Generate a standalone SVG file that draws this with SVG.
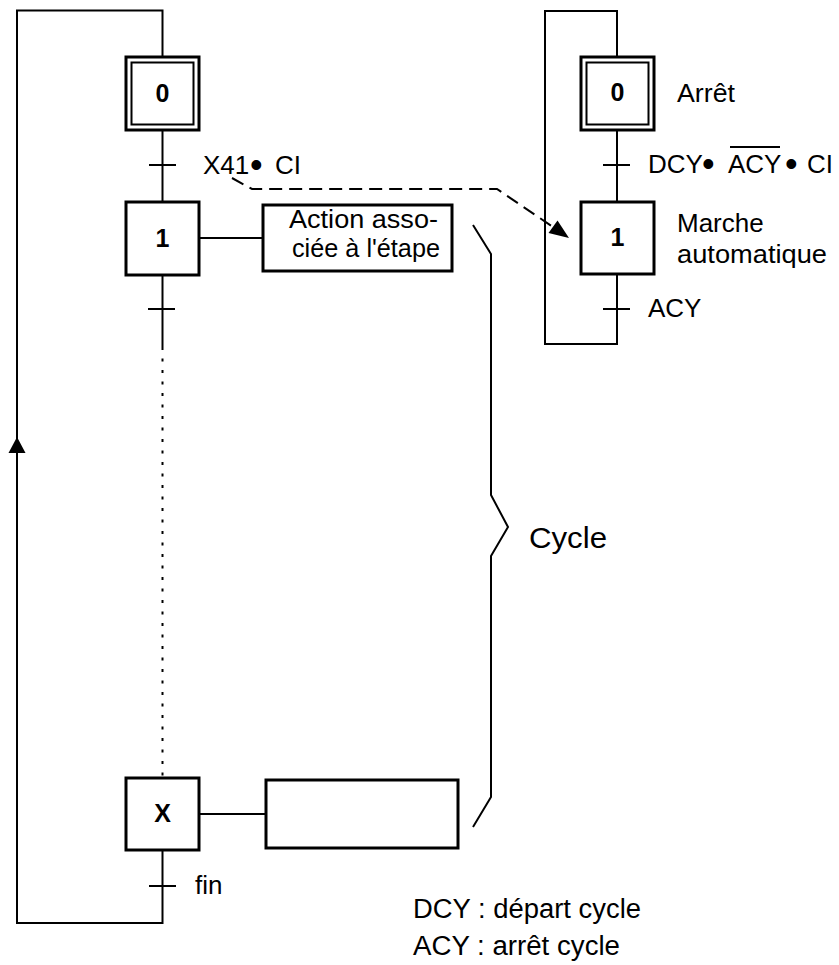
<svg xmlns="http://www.w3.org/2000/svg" width="839" height="965" viewBox="0 0 839 965">
<defs>
<style>
.ln{fill:none;stroke:#000;stroke-width:2}
.box{fill:#fff;stroke:#000;stroke-width:3}
.inner{fill:none;stroke:#000;stroke-width:2}
.t{font-family:"Liberation Sans",Arial,sans-serif;font-size:26px;fill:#000}
.lg{font-size:27px}
.num{font-family:"Liberation Sans",Arial,sans-serif;font-size:25px;font-weight:bold;fill:#000;text-anchor:middle}
.bul{font-size:36px}
</style>
</defs>
<rect width="839" height="965" fill="#fff"/>
<g id="connectors">
<path class="ln" d="M162.5,57 V10.5 H17 V923 H162.5 V850"/>
<polygon points="17,437 8.5,453 25.5,453" fill="#000"/>
<line class="ln" x1="162.5" y1="130" x2="162.5" y2="202"/>
<line class="ln" x1="149" y1="165" x2="176" y2="165"/>
<line class="ln" x1="162.5" y1="275" x2="162.5" y2="347"/>
<line class="ln" x1="148" y1="309" x2="175" y2="309"/>
<line class="ln" x1="162.5" y1="347" x2="162.5" y2="778" stroke-dasharray="3 8.5"/>
<line class="ln" x1="149" y1="886" x2="176" y2="886"/>
<line class="ln" x1="199" y1="238" x2="263" y2="238"/>
<line class="ln" x1="199" y1="814" x2="266" y2="814"/>
<path class="ln" d="M617,57 V11 H545 V344 H617 V274"/>
<line class="ln" x1="617" y1="130" x2="617" y2="202"/>
<line class="ln" x1="603" y1="165" x2="630" y2="165"/>
<line class="ln" x1="603" y1="309" x2="630" y2="309"/>
<path class="ln" d="M232,178 L252,189 L497,189 L553,227" stroke-dasharray="13 7"/>
<polygon points="569,238 548.5,233 557.5,220.5" fill="#000"/>
<polyline class="ln" points="473,225 491,254 491,495 508,527 491,556 491,797 473,827"/>
</g>
<g id="step0-left">
<rect class="box" x="126" y="57" width="73" height="73"/>
<rect class="inner" x="131.5" y="62.5" width="62" height="62"/>
<text class="num" x="162.5" y="102">0</text>
</g>
<g id="step1-left">
<rect class="box" x="126" y="202" width="73" height="73"/>
<text class="num" x="162.5" y="247">1</text>
</g>
<g id="stepX">
<rect class="box" x="126" y="778" width="73" height="72"/>
<text class="num" x="162.5" y="822">X</text>
</g>
<g id="action1">
<rect class="box" x="263" y="205" width="189" height="66"/>
<text class="t" x="289" y="228" textLength="149" lengthAdjust="spacingAndGlyphs">Action asso-</text>
<text class="t" x="292" y="257" textLength="148" lengthAdjust="spacingAndGlyphs">ciée à l'étape</text>
</g>
<g id="actionX">
<rect class="box" x="266" y="780" width="192" height="68"/>
</g>
<g id="labels-left">
<text class="t" x="203" y="174">X41<tspan class="bul" x="250" y="177">•</tspan><tspan x="275" y="174">CI</tspan></text>
<text class="t" x="195" y="894">fin</text>
<text class="t" x="529" y="548" style="font-size:30px" textLength="78" lengthAdjust="spacingAndGlyphs">Cycle</text>
</g>
<g id="step0-right">
<rect class="box" x="581" y="57" width="73" height="73"/>
<rect class="inner" x="586.5" y="62.5" width="62" height="62"/>
<text class="num" x="617.5" y="101">0</text>
<text class="t" x="677" y="102" textLength="58" lengthAdjust="spacingAndGlyphs">Arrêt</text>
</g>
<g id="step1-right">
<rect class="box" x="581" y="202" width="73" height="72"/>
<text class="num" x="617.5" y="246">1</text>
<text class="t" x="677" y="232">Marche</text>
<text class="t" x="677" y="263" textLength="150" lengthAdjust="spacingAndGlyphs">automatique</text>
</g>
<g id="labels-right">
<text class="t" x="648" y="173">DCY<tspan class="bul" x="702" y="176">•</tspan><tspan x="728" y="173">ACY</tspan><tspan class="bul" x="785" y="176">•</tspan><tspan x="807" y="173">CI</tspan></text>
<line x1="730" y1="147" x2="780" y2="147" stroke="#000" stroke-width="2"/>
<text class="t" x="648" y="317">ACY</text>
</g>
<g id="legend">
<text class="t lg" x="413" y="918" textLength="228" lengthAdjust="spacingAndGlyphs">DCY : départ cycle</text>
<text class="t lg" x="413" y="955" textLength="207" lengthAdjust="spacingAndGlyphs">ACY : arrêt cycle</text>
</g>
</svg>
